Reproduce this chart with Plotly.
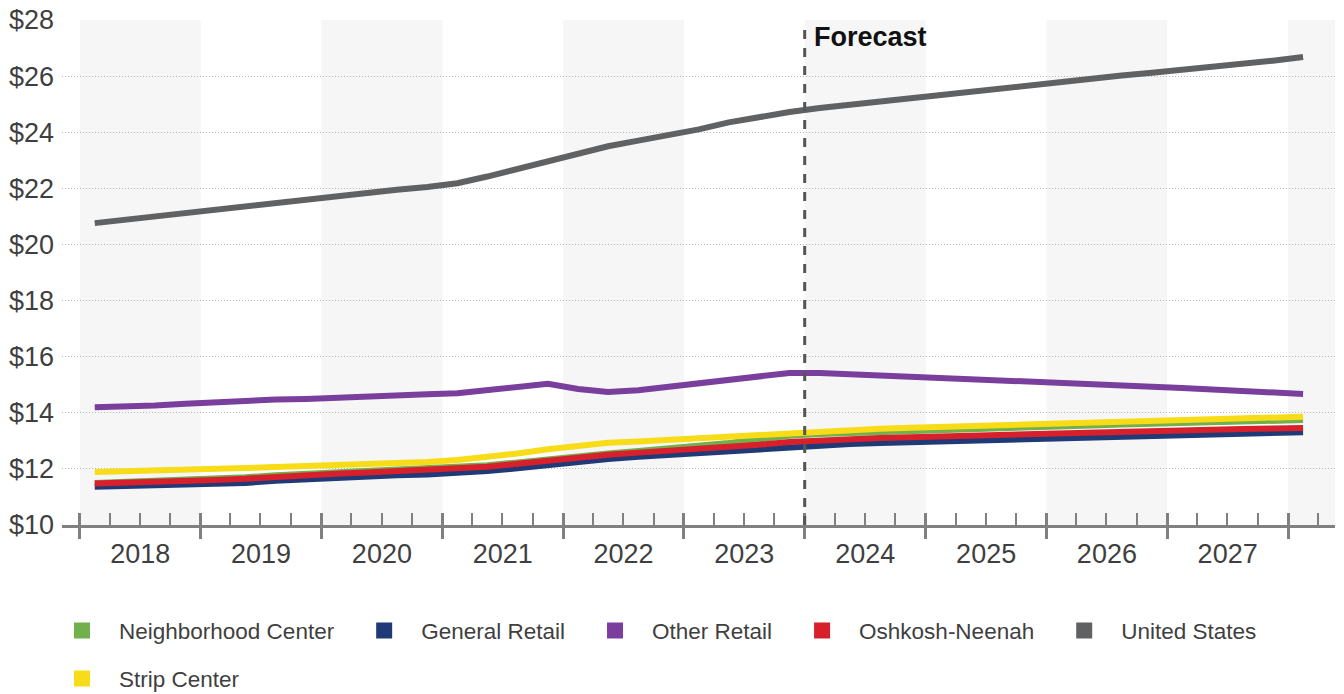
import pandas as pd
import plotly.graph_objects as go

# Quarterly asking rent per SF, 2018 Q1 through 2028 Q1
quarters = pd.period_range("2018Q1", "2028Q1", freq="Q")

neighborhood_center = [
    11.50, 11.53, 11.56, 11.60,
    11.64, 11.70, 11.77, 11.82,
    11.87, 11.91, 11.95, 12.00,
    12.05, 12.13, 12.23, 12.35,
    12.46, 12.55, 12.64, 12.72,
    12.80, 12.92, 13.05, 13.18,
    13.24, 13.28, 13.32, 13.36,
    13.40, 13.43, 13.46, 13.49,
    13.52, 13.55, 13.58, 13.61,
    13.64, 13.67, 13.70, 13.72,
    13.74,
]
general_retail = [
    11.36, 11.38, 11.41, 11.43,
    11.46, 11.50, 11.58, 11.64,
    11.69, 11.73, 11.77, 11.80,
    11.84, 11.92, 12.02, 12.14,
    12.26, 12.35, 12.43, 12.50,
    12.56, 12.64, 12.72, 12.80,
    12.85, 12.89, 12.92, 12.95,
    12.98, 13.01, 13.04, 13.07,
    13.10, 13.13, 13.16, 13.19,
    13.22, 13.24, 13.27, 13.29,
    13.31,
]
other_retail = [
    14.20, 14.22, 14.26, 14.32,
    14.38, 14.42, 14.47, 14.49,
    14.52, 14.57, 14.62, 14.66,
    14.70, 14.80, 14.95, 15.03,
    14.85, 14.74, 14.80, 14.92,
    15.03, 15.15, 15.25, 15.42,
    15.42, 15.38, 15.33, 15.28,
    15.24, 15.20, 15.16, 15.12,
    15.07, 15.02, 14.97, 14.93,
    14.88, 14.83, 14.78, 14.74,
    14.67,
]
oshkosh_neenah = [
    11.48, 11.50, 11.53, 11.56,
    11.60, 11.65, 11.72, 11.78,
    11.83, 11.87, 11.91, 11.96,
    12.00, 12.08, 12.18, 12.30,
    12.42, 12.50, 12.58, 12.64,
    12.70, 12.78, 12.86, 12.96,
    13.02, 13.06, 13.10, 13.13,
    13.16, 13.19, 13.22, 13.24,
    13.27, 13.30, 13.33, 13.35,
    13.38, 13.40, 13.42, 13.44,
    13.46,
]
united_states = [
    20.76, 20.88, 21.00, 21.12,
    21.24, 21.36, 21.50, 21.64,
    21.76, 21.86, 21.95, 22.05,
    22.18, 22.42, 22.68, 22.95,
    23.25, 23.50, 23.70, 23.90,
    24.10, 24.35, 24.55, 24.72,
    24.86, 24.98, 25.10, 25.22,
    25.33, 25.45, 25.57, 25.69,
    25.80, 25.91, 26.02, 26.12,
    26.22, 26.33, 26.44, 26.55,
    26.68,
]
strip_center = [
    11.89, 11.91, 11.94, 11.97,
    12.00, 12.03, 12.07, 12.10,
    12.13, 12.17, 12.21, 12.25,
    12.32, 12.42, 12.55, 12.70,
    12.83, 12.93, 12.98, 13.04,
    13.10, 13.16, 13.23, 13.30,
    13.35, 13.39, 13.43, 13.47,
    13.50, 13.53, 13.57, 13.60,
    13.63, 13.66, 13.69, 13.72,
    13.75, 13.78, 13.81, 13.83,
    13.86,
]

series = [
    ("Neighborhood Center", neighborhood_center, "#72b04d"),
    ("General Retail", general_retail, "#1f3a76"),
    ("Other Retail", other_retail, "#7a3f9d"),
    ("Oshkosh-Neenah", oshkosh_neenah, "#d7202b"),
    ("United States", united_states, "#606163"),
    ("Strip Center", strip_center, "#f7dc17"),
]

y_ticks = [10, 12, 14, 16, 18, 20, 22, 24, 26, 28]
y_tick_text = [f"${v}" for v in y_ticks]
shaded_years = [2018, 2020, 2022, 2024, 2026, 2028]
forecast_start = "2024-01-01"

# plot each point at the middle of its quarter
x_mid = [p.start_time + (p.end_time - p.start_time) / 2 for p in quarters]

x_range = ["2017-11-08", "2028-05-22"]
font_family = "Liberation Sans, Arial, sans-serif"
label_color = "#3f3f3f"
axis_color = "#808080"

NB = "\u00a0"
LEAD = NB + NB + "\u2009"        # space between swatch and label
TRAIL = NB * 4                   # extra space between legend entries

fig = go.Figure()

for name, values, color in series:
    fig.add_trace(go.Scatter(
        x=x_mid, y=values, name=name, mode="lines",
        line=dict(color=color, width=6),
        showlegend=False, hoverinfo="x+y+name",
    ))

# square legend swatches
for i, (name, values, color) in enumerate(series):
    fig.add_trace(go.Scatter(
        x=[None], y=[None], mode="markers",
        name=LEAD + name + TRAIL,
        marker=dict(symbol="square", size=18, color=color, line=dict(width=0)),
        legend="legend2" if i == len(series) - 1 else "legend",
    ))

# empty trace so the overlay axis carrying the upward major ticks is drawn
fig.add_trace(go.Scatter(x=[], y=[], xaxis="x2", showlegend=False, hoverinfo="skip"))

shapes = []
for yr in shaded_years:
    shapes.append(dict(
        type="rect", xref="x", yref="y", layer="below",
        x0=f"{yr}-01-01", x1=min(f"{yr + 1}-01-01", x_range[1]),
        y0=10, y1=28, fillcolor="#f6f6f6", line=dict(width=0),
    ))
shapes.append(dict(
    type="line", xref="x", yref="y", x0=forecast_start, x1=forecast_start,
    y0=10, y1=27.9, line=dict(color="#555555", width=3, dash="dash"),
))

fig.update_layout(
    width=1344, height=694,
    margin=dict(l=62, r=9, t=20, b=169, autoexpand=False),
    paper_bgcolor="white", plot_bgcolor="white",
    font=dict(family=font_family, color=label_color),
    shapes=shapes,
    annotations=[dict(
        x=forecast_start, y=28, xref="x", yref="y", xanchor="left", yanchor="top",
        xshift=7, yshift=0, text="<b>Forecast</b>", showarrow=False,
        font=dict(size=27, color="#111111", family=font_family),
    )],
    xaxis=dict(
        type="date", range=x_range,
        tick0="2018-01-01", dtick="M12", tickformat="%Y", ticklabelmode="period",
        ticks="outside", ticklen=11, tickwidth=3, tickcolor=axis_color,
        showline=True, linecolor=axis_color, linewidth=3,
        showgrid=False, zeroline=False,
        tickfont=dict(size=27, color=label_color),
        ticklabelstandoff=-8,
        minor=dict(dtick="M3", ticks="inside", ticklen=12, tickwidth=2,
                   tickcolor=axis_color, showgrid=False),
    ),
    xaxis2=dict(
        type="date", overlaying="x", matches="x", anchor="y", side="bottom",
        tick0="2018-01-01", dtick="M12",
        ticks="inside", ticklen=12, tickwidth=3, tickcolor=axis_color,
        showticklabels=False, showline=False, showgrid=False, zeroline=False,
    ),
    yaxis=dict(
        range=[10, 28], tickvals=y_ticks, ticktext=y_tick_text,
        showgrid=True, gridcolor="#b8b8b8", gridwidth=1, griddash="1px,2px",
        zeroline=False, showline=False, ticks="",
        tickfont=dict(size=27, color=label_color),
        ticklabelstandoff=7,
    ),
    legend=dict(
        orientation="h", x=0.0, xanchor="left", y=-0.167, yanchor="top",
        font=dict(size=22.5, color=label_color), itemsizing="trace",
        bgcolor="rgba(0,0,0,0)",
    ),
    legend2=dict(
        orientation="h", x=0.0, xanchor="left", y=-0.262, yanchor="top",
        font=dict(size=22.5, color=label_color), itemsizing="trace",
        bgcolor="rgba(0,0,0,0)",
    ),
)

fig.write_html("out.html")
